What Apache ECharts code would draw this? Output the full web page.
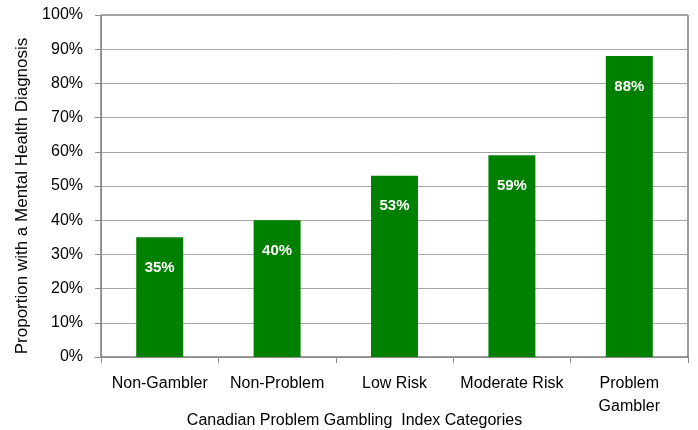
<!DOCTYPE html>
<html>
<head>
<meta charset="utf-8">
<script src="https://cdn.jsdelivr.net/npm/echarts@6/dist/echarts.min.js"></script>
<style>
  html, body { margin: 0; padding: 0; background: #fff; }
  #main { width: 698px; height: 430px; }
</style>
</head>
<body>
<div id="main"></div>
<script>
// chart data
const categories = ['Non-Gambler', 'Non-Problem', 'Low Risk', 'Moderate Risk', 'Problem\nGambler'];
const proportions = [35, 40, 53, 59, 88];
const yTicks = [0, 10, 20, 30, 40, 50, 60, 70, 80, 90, 100];

const font = 'Liberation Sans, Arial, sans-serif';

const chart = echarts.init(document.getElementById('main'));
const option = {
  animation: false,
  grid: {
    left: 101,
    right: 10,
    top: 15,
    bottom: 73,
    outerBoundsMode: 'none',
    show: true,
    borderColor: '#3a3a3a',
    borderWidth: 1,
  },
  xAxis: {
    type: 'category',
    data: categories,
    name: 'Canadian Problem Gambling  Index Categories',
    nameLocation: 'middle',
    nameGap: 56,
    nameMoveOverlap: false,
    // title sits left of the plot centre in the original
    nameTextStyle: { fontFamily: font, fontSize: 16, color: '#000', padding: [0, 80, 0, 0] },
    axisLine: { lineStyle: { color: '#8a8a8a', width: 1 } },
    axisTick: { show: true, length: 6, lineStyle: { color: '#8a8a8a' } },
    axisLabel: {
      fontFamily: font,
      fontSize: 16,
      color: '#000',
      margin: 15,
      lineHeight: 23,
      interval: 0,
    },
  },
  yAxis: {
    type: 'value',
    min: yTicks[0],
    max: yTicks[yTicks.length - 1],
    interval: 10,
    name: 'Proportion with a Mental Health Diagnosis',
    nameLocation: 'middle',
    nameRotate: 90,
    nameGap: 70,
    nameMoveOverlap: false,
    nameTextStyle: { fontFamily: font, fontSize: 17, color: '#000', padding: [0, 20, 0, 0] },
    axisLine: { show: true, lineStyle: { color: '#8a8a8a', width: 1 } },
    axisTick: { show: true, length: 6, lineStyle: { color: '#8a8a8a' } },
    axisLabel: {
      fontFamily: font,
      fontSize: 16,
      color: '#000',
      margin: 18,
      formatter: '{value}%',
    },
    splitLine: { lineStyle: { color: '#a6a6a6', width: 1 } },
  },
  series: [
    {
      type: 'bar',
      data: proportions,
      barWidth: '40%',
      itemStyle: { color: '#008000' },
      label: {
        show: true,
        position: 'insideTop',
        distance: 23,
        formatter: '{c}%',
        color: '#fff',
        fontFamily: font,
        fontSize: 15,
        fontWeight: 'bold',
      },
    },
  ],
};
chart.setOption(option);
</script>
</body>
</html>
